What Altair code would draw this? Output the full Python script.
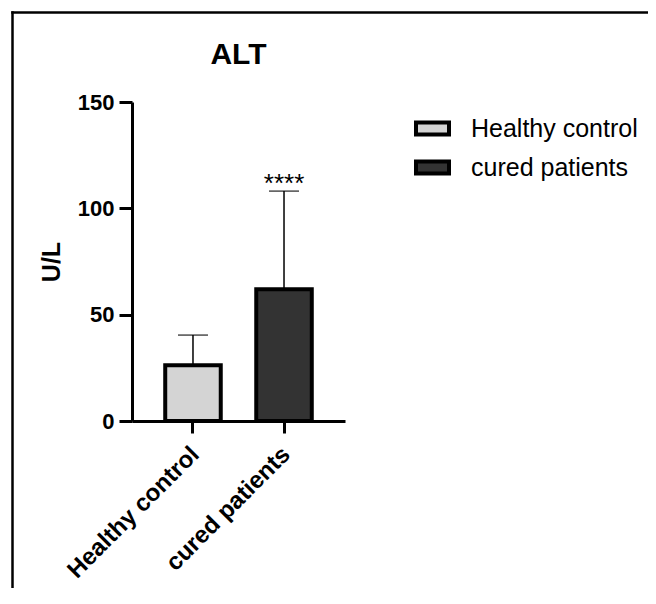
import altair as alt
import pandas as pd

groups = ["Healthy control", "cured patients"]
means = [26.2, 62.0]
uppers = [40.4, 108.1]
fills = ["#d4d4d4", "#333333"]
sig = ["", "****"]
chart_title = "ALT"

df = pd.DataFrame({"group": groups, "mean": means, "upper": uppers, "sig": sig})

FONT = "Liberation Sans"

xenc = alt.X(
    "group:N",
    sort=groups,
    title=None,
    scale=alt.Scale(paddingInner=0.39, paddingOuter=0.365),
    axis=alt.Axis(
        labelAngle=-45,
        labelFont=FONT,
        labelFontSize=24,
        labelFontWeight="bold",
        labelColor="black",
        labelLimit=400,
        labelOffset=-6,
        domainColor="black",
        domainWidth=3,
        tickColor="black",
        tickWidth=3,
        tickSize=12,
        labelPadding=9,
    ),
)

yscale = alt.Scale(domain=[0, 150], nice=False)

bars = alt.Chart(df).mark_bar(stroke="black", strokeWidth=4).encode(
    x=xenc,
    y=alt.Y(
        "mean:Q",
        scale=yscale,
        title="U/L",
        axis=alt.Axis(
            values=[0, 50, 100, 150],
            grid=False,
            labelFont=FONT,
            labelFontSize=22,
            labelFontWeight="bold",
            labelColor="black",
            titleFont=FONT,
            titleFontSize=25,
            titleFontWeight="bold",
            titleColor="black",
            titlePadding=13,
            domainColor="black",
            domainWidth=3,
            tickColor="black",
            tickWidth=3,
            tickSize=13,
            labelPadding=5,
        ),
    ),
    fill=alt.Fill(
        "group:N",
        sort=groups,
        scale=alt.Scale(domain=groups, range=fills),
        legend=alt.Legend(
            title=None,
            orient="none",
            legendX=282,
            legendY=8,
            symbolType="M-1,-0.36L1,-0.36L1,0.36L-1,0.36Z",
            symbolSize=1089,
            symbolStrokeColor="black",
            symbolStrokeWidth=4,
            symbolOpacity=1,
            labelFont=FONT,
            labelFontSize=25,
            labelColor="black",
            labelLimit=400,
            labelOffset=20,
            rowPadding=6,
        ),
    ),
)

err = alt.Chart(df).mark_rule(color="black", strokeWidth=1.5).encode(
    x=alt.X("group:N", sort=groups),
    y=alt.Y("mean:Q", scale=yscale),
    y2="upper:Q",
)

caps = alt.Chart(df).mark_tick(color="black", thickness=1.5, size=30).encode(
    x=alt.X("group:N", sort=groups),
    y=alt.Y("upper:Q", scale=yscale),
)

stars = alt.Chart(df).mark_text(
    font=FONT, fontSize=26, baseline="alphabetic", color="black", dy=1
).encode(
    x=alt.X("group:N", sort=groups),
    y=alt.Y("upper:Q", scale=yscale),
    text="sig:N",
)

title_df = pd.DataFrame({"t": [chart_title]})
title = alt.Chart(title_df).mark_text(
    font=FONT, fontSize=30, fontWeight="bold", color="black",
    baseline="alphabetic", align="center"
).encode(
    x=alt.value(106.5),
    y=alt.value(-38),
    text="t:N",
)

frame_df = pd.DataFrame({"a": [0]})
frame_top = alt.Chart(frame_df).mark_rule(color="black", strokeWidth=2.5).encode(
    x=alt.value(-120.75),
    x2=alt.value(3000),
    y=alt.value(-89.5),
)
frame_left = alt.Chart(frame_df).mark_rule(color="black", strokeWidth=2.5).encode(
    x=alt.value(-119.5),
    y=alt.value(-90.75),
    y2=alt.value(3000),
)

chart = (
    alt.layer(frame_top, frame_left, bars, err, caps, stars, title)
    .properties(
        width=213,
        height=319,
        autosize=alt.AutoSizeParams(type="none"),
        padding={"left": 124, "top": 94, "right": 303, "bottom": 167},
    )
    .configure_view(strokeWidth=0)
)

chart.save("out.html", embed_options={"renderer": "svg", "actions": False})
